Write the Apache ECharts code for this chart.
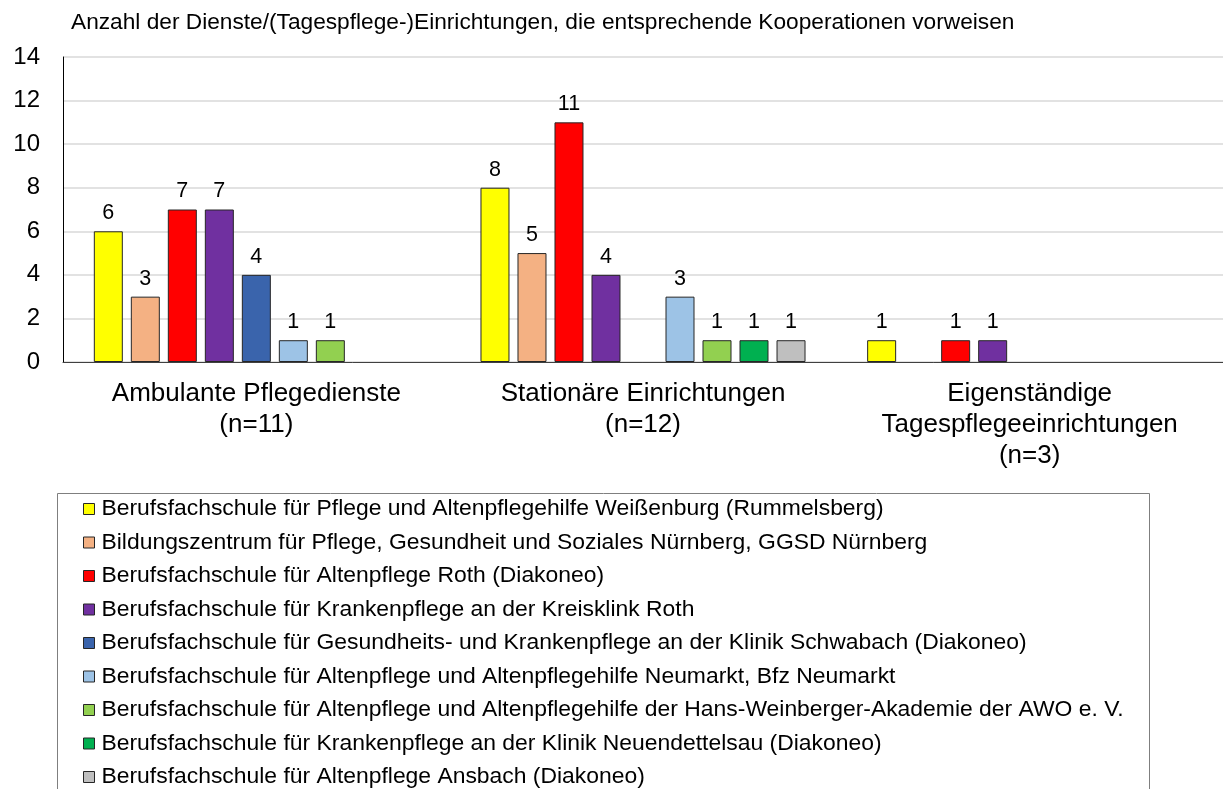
<!DOCTYPE html>
<html>
<head>
<meta charset="utf-8">
<script src="https://cdn.jsdelivr.net/npm/echarts@6/dist/echarts.min.js"></script>
<style>
html,body{margin:0;padding:0;background:#fff;}
#chart{width:1223px;height:789px;}
</style>
</head>
<body>
<div id="chart"></div>
<script>
const titleText = 'Anzahl der Dienste/(Tagespflege-)Einrichtungen, die entsprechende Kooperationen vorweisen';
const categories = ['Ambulante Pflegedienste\n(n=11)', 'Stationäre Einrichtungen\n(n=12)', 'Eigenständige\nTagespflegeeinrichtungen\n(n=3)'];
const seriesNames = [
  'Berufsfachschule für Pflege und Altenpflegehilfe Weißenburg (Rummelsberg)',
  'Bildungszentrum für Pflege, Gesundheit und Soziales Nürnberg, GGSD Nürnberg',
  'Berufsfachschule für Altenpflege Roth (Diakoneo)',
  'Berufsfachschule für Krankenpflege an der Kreisklink Roth',
  'Berufsfachschule für Gesundheits- und Krankenpflege an der Klinik Schwabach (Diakoneo)',
  'Berufsfachschule für Altenpflege und Altenpflegehilfe Neumarkt, Bfz Neumarkt',
  'Berufsfachschule für Altenpflege und Altenpflegehilfe der Hans-Weinberger-Akademie der AWO e. V.',
  'Berufsfachschule für Krankenpflege an der Klinik Neuendettelsau (Diakoneo)',
  'Berufsfachschule für Altenpflege Ansbach (Diakoneo)'
];
const weissenburg = [6, 8, 1];
const ggsd = [3, 5, null];
const roth = [7, 11, 1];
const kreisklinik = [7, 4, 1];
const schwabach = [4, null, null];
const neumarkt = [1, 3, null];
const awo = [1, 1, null];
const neuendettelsau = [null, 1, null];
const ansbach = [null, 1, null];
const seriesValues = [weissenburg, ggsd, roth, kreisklinik, schwabach, neumarkt, awo, neuendettelsau, ansbach];
const colors = ['#FFFF00', '#F4B183', '#FF0000', '#7030A0', '#3A64AC', '#9DC3E6', '#92D050', '#00B050', '#BFBFBF'];
const yTicks = [0, 2, 4, 6, 8, 10, 12, 14];

const FONT = '"Liberation Sans", Arial, sans-serif';
const chart = echarts.init(document.getElementById('chart'), null, {renderer: 'canvas'});

const series = seriesNames.map((name, i) => ({
  name: name,
  type: 'bar',
  data: seriesValues[i],
  barWidth: 29,
  barGap: '27.6%',
  itemStyle: {color: colors[i], borderColor: '#262626', borderWidth: 1},
  label: {
    show: true,
    position: 'top',
    distance: 7,
    color: '#000',
    fontSize: 21.5,
    fontFamily: FONT
  }
}));

chart.setOption({
  animation: false,
  backgroundColor: '#fff',
  title: {
    text: titleText,
    left: 71,
    top: 11,
    padding: 0,
    textStyle: {fontSize: 22.7, fontWeight: 'normal', color: '#000', fontFamily: FONT}
  },
  grid: {left: 63, right: 0, top: 57, bottom: 427, containLabel: false},
  graphic: [{
    type: 'rect',
    shape: {x: 57.5, y: 493.5, width: 1092, height: 400},
    style: {fill: 'none', stroke: '#7f7f7f', lineWidth: 1},
    silent: true,
    z: -1
  }],
  legend: {
    orient: 'vertical',
    left: 83,
    top: 497,
    itemWidth: 11,
    itemHeight: 11,
    itemGap: 9.5,
    icon: 'rect',
    padding: 0,
    itemStyle: {borderColor: '#262626', borderWidth: 1},
    textStyle: {fontSize: 22.9, color: '#000', fontFamily: FONT, lineHeight: 24, padding: [0, 0, 0, 2]},
    data: seriesNames
  },
  xAxis: {
    type: 'category',
    data: categories,
    axisLine: {show: true, lineStyle: {color: '#404040', width: 1}},
    axisTick: {show: false},
    axisLabel: {fontSize: 26, lineHeight: 31, color: '#000', fontFamily: FONT, margin: 16, interval: 0}
  },
  yAxis: {
    type: 'value',
    min: yTicks[0],
    max: yTicks[yTicks.length - 1],
    interval: 2,
    axisLine: {show: true, lineStyle: {color: '#000', width: 1}},
    axisTick: {show: false},
    splitLine: {show: true, lineStyle: {color: '#D9D9D9', width: 1.5}},
    axisLabel: {fontSize: 24, color: '#000', fontFamily: FONT, margin: 23}
  },
  series: series
});
</script>
</body>
</html>
